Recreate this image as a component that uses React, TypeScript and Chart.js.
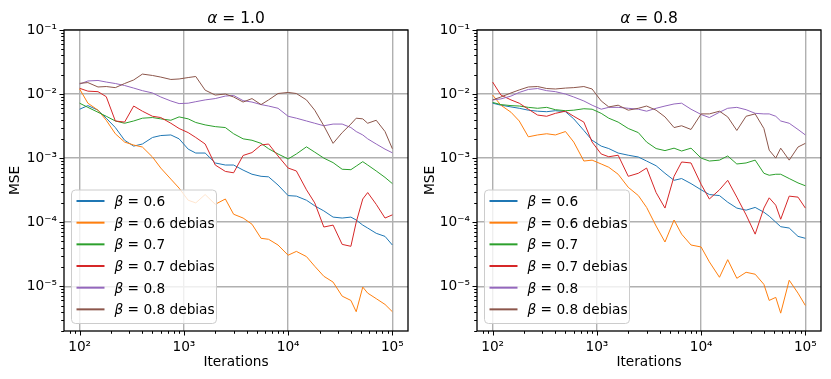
import React, { useEffect, useRef } from 'react';
import { Chart, registerables } from 'chart.js';

Chart.register(...registerables);

// ---------- data ----------
const iterations = [100, 120, 150, 180, 220, 270, 330, 400, 500, 600, 750, 900, 1100, 1300, 1600, 2000, 2500, 3000, 3700, 4500, 5500, 6500, 8000, 10000, 12000, 15000, 18000, 22000, 27000, 33000, 40000, 45000, 52000, 58000, 70000, 85000, 100000];

// alpha = 1.0
const a10_b06 = [5.8e-3, 6.6e-3, 5.6e-3, 4.2e-3, 3.0e-3, 1.9e-3, 1.54e-3, 1.66e-3, 2.1e-3, 2.25e-3, 2.3e-3, 2.0e-3, 1.38e-3, 1.2e-3, 1.2e-3, 8.4e-4, 7.8e-4, 7.8e-4, 6.5e-4, 5.6e-4, 5.2e-4, 5.1e-4, 3.8e-4, 2.6e-4, 2.55e-4, 2.2e-4, 1.8e-4, 1.5e-4, 1.2e-4, 1.16e-4, 1.2e-4, 1.08e-4, 9.0e-5, 8.1e-5, 6.7e-5, 6.0e-5, 4.4e-5];
const a10_b06_debias = [1.2e-2, 7.2e-3, 5.6e-3, 3.9e-3, 2.4e-3, 1.78e-3, 1.6e-3, 1.49e-3, 1.04e-3, 7.0e-4, 4.7e-4, 3.4e-4, 2.2e-4, 2.0e-4, 2.7e-4, 1.9e-4, 2.3e-4, 1.33e-4, 1.16e-4, 9.3e-5, 5.6e-5, 5.4e-5, 4.4e-5, 3.05e-5, 3.5e-5, 2.9e-5, 2.05e-5, 1.43e-5, 1.16e-5, 7.0e-6, 6.0e-6, 4.0e-6, 9.7e-6, 7.8e-6, 6.4e-6, 5.2e-6, 4.0e-6];
const a10_b07 = [7.2e-3, 6.2e-3, 5.2e-3, 4.5e-3, 3.8e-3, 3.5e-3, 3.8e-3, 4.2e-3, 4.3e-3, 4.1e-3, 3.9e-3, 4.4e-3, 4.1e-3, 3.6e-3, 3.3e-3, 3.1e-3, 3.0e-3, 2.4e-3, 2.0e-3, 1.9e-3, 1.7e-3, 1.4e-3, 1.16e-3, 9.7e-4, 1.16e-3, 1.5e-3, 1.24e-3, 1.0e-3, 8.5e-4, 6.7e-4, 6.6e-4, 7.5e-4, 8.8e-4, 7.8e-4, 6.3e-4, 5.0e-4, 4.0e-4];
const a10_b07_debias = [1.23e-2, 1.11e-2, 1.09e-2, 9.1e-3, 3.8e-3, 3.65e-3, 6.5e-3, 5.4e-3, 4.5e-3, 4.3e-3, 3.5e-3, 2.9e-3, 2.5e-3, 2.1e-3, 1.66e-3, 7.8e-4, 6.2e-4, 5.9e-4, 1.1e-3, 1.22e-3, 1.6e-3, 1.66e-3, 1.08e-3, 7.0e-4, 6.3e-4, 3.2e-4, 2.0e-4, 8.4e-5, 9.0e-5, 4.5e-5, 4.2e-5, 1.0e-4, 2.3e-4, 2.9e-4, 1.9e-4, 1.16e-4, 1.3e-4];
const a10_b08 = [1.43e-2, 1.6e-2, 1.63e-2, 1.54e-2, 1.46e-2, 1.36e-2, 1.24e-2, 1.13e-2, 1.04e-2, 9.0e-3, 7.8e-3, 7.1e-3, 7.2e-3, 7.6e-3, 8.1e-3, 8.5e-3, 9.3e-3, 9.5e-3, 7.9e-3, 7.5e-3, 6.85e-3, 6.5e-3, 6.0e-3, 4.5e-3, 4.2e-3, 3.8e-3, 3.5e-3, 3.2e-3, 3.4e-3, 3.4e-3, 3.0e-3, 2.6e-3, 2.3e-3, 2.0e-3, 1.66e-3, 1.38e-3, 1.21e-3];
const a10_b08_debias = [1.47e-2, 1.51e-2, 1.29e-2, 1.31e-2, 1.26e-2, 1.46e-2, 1.66e-2, 2.05e-2, 1.95e-2, 1.84e-2, 1.69e-2, 1.72e-2, 1.81e-2, 1.88e-2, 1.15e-2, 9.65e-3, 1.0e-2, 9.0e-3, 7.5e-3, 8.5e-3, 6.85e-3, 8.1e-3, 1.02e-2, 1.06e-2, 1.02e-2, 8.1e-3, 5.6e-3, 3.2e-3, 1.7e-3, 2.5e-3, 3.4e-3, 4.2e-3, 4.1e-3, 3.5e-3, 3.9e-3, 2.6e-3, 1.4e-3];

// alpha = 0.8
const a08_b06 = [7.2e-3, 6.7e-3, 6.3e-3, 6.0e-3, 5.6e-3, 5.4e-3, 5.3e-3, 5.5e-3, 5.3e-3, 4.1e-3, 2.7e-3, 1.9e-3, 1.54e-3, 1.41e-3, 1.2e-3, 1.11e-3, 1.04e-3, 9.0e-4, 7.6e-4, 5.8e-4, 4.5e-4, 4.8e-4, 4.0e-4, 3.2e-4, 2.7e-4, 2.6e-4, 2.05e-4, 1.66e-4, 1.54e-4, 1.7e-4, 1.43e-4, 1.24e-4, 1.0e-4, 8.5e-5, 8.1e-5, 6.0e-5, 5.6e-5];
const a08_b06_debias = [9.65e-3, 6.7e-3, 5.2e-3, 3.8e-3, 2.15e-3, 2.3e-3, 2.4e-3, 2.3e-3, 2.6e-3, 1.78e-3, 9.0e-4, 9.3e-4, 8.1e-4, 7.2e-4, 5.6e-4, 3.5e-4, 2.6e-4, 1.7e-4, 8.7e-5, 4.9e-5, 1.08e-4, 6.5e-5, 4.4e-5, 4.1e-5, 2.4e-5, 1.38e-5, 2.6e-5, 1.33e-5, 1.65e-5, 1.54e-5, 1.07e-5, 6.0e-6, 6.7e-6, 3.8e-6, 1.24e-5, 7.8e-6, 5.0e-6];
const a08_b07 = [7.4e-3, 6.85e-3, 6.6e-3, 6.5e-3, 6.2e-3, 6.0e-3, 6.2e-3, 5.7e-3, 5.5e-3, 5.6e-3, 5.9e-3, 5.8e-3, 5.0e-3, 4.2e-3, 3.65e-3, 2.9e-3, 2.5e-3, 1.78e-3, 1.41e-3, 1.31e-3, 1.43e-3, 1.29e-3, 1.43e-3, 1.0e-3, 9.0e-4, 9.3e-4, 1.08e-3, 8.1e-4, 8.4e-4, 9.3e-4, 5.8e-4, 5.4e-4, 5.6e-4, 5.6e-4, 4.8e-4, 4.1e-4, 3.7e-4];
const a08_b07_debias = [1.54e-2, 9.65e-3, 8.1e-3, 7.2e-3, 5.8e-3, 4.7e-3, 4.5e-3, 5.0e-3, 5.4e-3, 4.5e-3, 3.65e-3, 1.78e-3, 1.16e-3, 1.05e-3, 1.11e-3, 5.2e-4, 5.8e-4, 7.0e-4, 2.9e-4, 1.66e-4, 5.2e-4, 8.7e-4, 8.4e-4, 3.9e-4, 2.3e-4, 3.2e-4, 4.5e-4, 2.46e-4, 1.3e-4, 6.5e-5, 1.66e-4, 2.4e-4, 1.84e-4, 1.11e-4, 2.55e-4, 2.46e-4, 1.66e-4];
const a08_b08 = [8.1e-3, 8.4e-3, 9.3e-3, 1.06e-2, 1.18e-2, 1.22e-2, 1.13e-2, 1.09e-2, 1.0e-2, 9.0e-3, 7.8e-3, 6.7e-3, 5.8e-3, 6.2e-3, 6.2e-3, 6.0e-3, 5.8e-3, 5.4e-3, 6.0e-3, 6.5e-3, 7.0e-3, 7.2e-3, 5.8e-3, 4.8e-3, 4.3e-3, 5.2e-3, 6.0e-3, 6.2e-3, 5.7e-3, 5.0e-3, 4.9e-3, 4.9e-3, 4.5e-3, 3.8e-3, 3.5e-3, 2.8e-3, 2.3e-3];
const a08_b08_debias = [8.1e-3, 9.0e-3, 1.04e-2, 1.16e-2, 1.29e-2, 1.31e-2, 1.22e-2, 1.2e-2, 1.24e-2, 1.26e-2, 1.31e-2, 1.2e-2, 7.8e-3, 6.3e-3, 6.7e-3, 5.6e-3, 6.0e-3, 6.5e-3, 5.6e-3, 4.4e-3, 3.0e-3, 3.2e-3, 2.8e-3, 4.9e-3, 4.9e-3, 5.4e-3, 4.4e-3, 2.7e-3, 4.5e-3, 4.9e-3, 2.9e-3, 1.33e-3, 1.0e-3, 1.43e-3, 9.3e-4, 1.49e-3, 1.7e-3];

const betaValues = ['0.6', '0.6', '0.7', '0.7', '0.8', '0.8'];
const betaSuffixes = ['', ' debias', '', ' debias', '', ' debias'];
const seriesColors = ['#1f77b4', '#ff7f0e', '#2ca02c', '#d62728', '#9467bd', '#8c564b'];

const xTickValues = [1e2, 1e3, 1e4, 1e5];
const xTickLabels = ['10\u00B2', '10\u00B3', '10\u2074', '10\u2075'];
const yTickValues = [1e-5, 1e-4, 1e-3, 1e-2, 1e-1];
const yTickLabels = ['10\u207B\u2075', '10\u207B\u2074', '10\u207B\u00B3', '10\u207B\u00B2', '10\u207B\u00B9'];

const X_MIN = 70.8;
const X_MAX = 141254;
const Y_MIN = 2e-6;
const Y_MAX = 0.1;

const FONT = '"DejaVu Sans"';
const FS = 13.7;
const TITLE_FS = 15.5;

type Panel = { alpha: string; series: number[][]; yAxisWidth: number; padRight: number; left: number; width: number };

const panels: Panel[] = [
  { alpha: '1.0', series: [a10_b06, a10_b06_debias, a10_b07, a10_b07_debias, a10_b08, a10_b08_debias], yAxisWidth: 64, padRight: 7, left: 0, width: 415 },
  { alpha: '0.8', series: [a08_b06, a08_b06_debias, a08_b07, a08_b07_debias, a08_b08, a08_b08_debias], yAxisWidth: 62, padRight: 10, left: 415, width: 416 },
];

function logTickPositions(min: number, max: number): { v: number; major: boolean }[] {
  const out: { v: number; major: boolean }[] = [];
  const e0 = Math.floor(Math.log10(min));
  const e1 = Math.ceil(Math.log10(max));
  for (let e = e0; e <= e1; e++) {
    for (let m = 1; m <= 9; m++) {
      const v = m * Math.pow(10, e);
      if (v >= min * 0.9999 && v <= max * 1.0001) out.push({ v, major: m === 1 });
    }
  }
  return out;
}

const decorPlugin = {
  id: 'decor',
  afterDatasetsDraw(chart: any) {
    const { ctx, chartArea: ca } = chart;
    const xs = chart.scales.x;
    const ys = chart.scales.y;
    const alpha: string = chart.options.plugins.decor.alpha;
    ctx.save();
    // frame (spines)
    ctx.strokeStyle = '#000';
    ctx.lineWidth = 1.3;
    ctx.strokeRect(ca.left, ca.top, ca.right - ca.left, ca.bottom - ca.top);
    // ticks
    ctx.lineWidth = 1;
    for (const t of logTickPositions(X_MIN, X_MAX)) {
      const p = Math.round(xs.getPixelForValue(t.v)) + 0.5;
      ctx.beginPath();
      ctx.moveTo(p, ca.bottom);
      ctx.lineTo(p, ca.bottom + (t.major ? 4.5 : 2.8));
      ctx.stroke();
    }
    for (const t of logTickPositions(Y_MIN, Y_MAX)) {
      const p = Math.round(ys.getPixelForValue(t.v)) + 0.5;
      ctx.beginPath();
      ctx.moveTo(ca.left, p);
      ctx.lineTo(ca.left - (t.major ? 4.5 : 2.8), p);
      ctx.stroke();
    }
    // title
    ctx.fillStyle = '#000';
    ctx.textBaseline = 'alphabetic';
    ctx.font = `italic ${TITLE_FS}px ${FONT}`;
    const wA = ctx.measureText('\u03B1').width;
    ctx.font = `${TITLE_FS}px ${FONT}`;
    const rest = ' = ' + alpha;
    const wR = ctx.measureText(rest).width;
    const cx = (ca.left + ca.right) / 2;
    const tx = cx - (wA + wR) / 2;
    ctx.font = `italic ${TITLE_FS}px ${FONT}`;
    ctx.fillText('\u03B1', tx, 22.7);
    ctx.font = `${TITLE_FS}px ${FONT}`;
    ctx.fillText(rest, tx + wA, 22.7);

    // legend
    const lw = 145;
    const lh = 133.5;
    const lx = ca.left + 7.5;
    const ly = ca.bottom - 7.5 - lh;
    ctx.beginPath();
    if (ctx.roundRect) ctx.roundRect(lx, ly, lw, lh, 4);
    else ctx.rect(lx, ly, lw, lh);
    ctx.fillStyle = 'rgba(255,255,255,0.8)';
    ctx.fill();
    ctx.strokeStyle = '#cccccc';
    ctx.lineWidth = 1;
    ctx.stroke();
    chart.data.datasets.forEach((ds: any, i: number) => {
      const cy = ly + 11 + i * 21.67;
      ctx.strokeStyle = ds.borderColor;
      ctx.lineWidth = 2;
      ctx.beginPath();
      ctx.moveTo(lx + 5, cy);
      ctx.lineTo(lx + 33, cy);
      ctx.stroke();
      ctx.fillStyle = '#000';
      let x = lx + 43;
      const by = cy + 5;
      ctx.font = `italic ${FS}px ${FONT}`;
      ctx.fillText('\u03B2', x, by);
      x += ctx.measureText('\u03B2').width;
      ctx.font = `${FS}px ${FONT}`;
      const txt = ' = ' + betaValues[i] + betaSuffixes[i];
      ctx.fillText(txt, x, by);
    });
    ctx.restore();
  },
};

function PanelChart({ panel }: { panel: Panel }) {
  const ref = useRef<HTMLCanvasElement | null>(null);
  useEffect(() => {
    if (!ref.current) return;
    const datasets = panel.series.map((s, i) => ({
      label: 'beta ' + betaValues[i] + betaSuffixes[i],
      data: iterations.map((x, j) => ({ x, y: s[j] })),
      borderColor: seriesColors[i],
      backgroundColor: seriesColors[i],
      borderWidth: 1,
      pointRadius: 0,
      tension: 0,
      fill: false,
      order: 5 - i,
    }));
    const tickFont = { family: FONT, size: FS };
    const chart = new Chart(ref.current, {
      type: 'line',
      data: { datasets },
      plugins: [decorPlugin],
      options: {
        animation: false,
        responsive: false,
        maintainAspectRatio: false,
        devicePixelRatio: 1,
        layout: { padding: { top: 30, right: panel.padRight, left: 0, bottom: 0 } },
        plugins: {
          legend: { display: false },
          tooltip: { enabled: false },
          title: { display: false },
          decor: { alpha: panel.alpha },
        } as any,
        scales: {
          x: {
            type: 'logarithmic',
            min: X_MIN,
            max: X_MAX,
            afterBuildTicks: (s: any) => {
              s.ticks = xTickValues.map((v) => ({ value: v }));
            },
            afterFit: (s: any) => {
              s.height = 48;
            },
            ticks: {
              autoSkip: false,
              maxRotation: 0,
              padding: 2,
              color: '#000',
              font: tickFont,
              callback: (v: any) => {
                const k = xTickValues.indexOf(Number(v));
                return k >= 0 ? xTickLabels[k] : '';
              },
            },
            grid: { color: '#b0b0b0', lineWidth: 1.4, drawTicks: true, tickLength: 6, tickColor: 'rgba(0,0,0,0)' },
            border: { display: false },
            title: { display: true, text: 'Iterations', color: '#000', font: tickFont, padding: { top: 0, bottom: 8.5 } },
          },
          y: {
            type: 'logarithmic',
            min: Y_MIN,
            max: Y_MAX,
            afterBuildTicks: (s: any) => {
              s.ticks = yTickValues.map((v) => ({ value: v }));
            },
            afterFit: (s: any) => {
              s.width = panel.yAxisWidth;
            },
            ticks: {
              autoSkip: false,
              padding: 1,
              color: '#000',
              font: tickFont,
              callback: (v: any) => {
                const k = yTickValues.indexOf(Number(v));
                return k >= 0 ? yTickLabels[k] : '';
              },
            },
            grid: { color: '#b0b0b0', lineWidth: 1.4, drawTicks: true, tickLength: 6, tickColor: 'rgba(0,0,0,0)' },
            border: { display: false },
            title: { display: true, text: 'MSE', color: '#000', font: tickFont, padding: { top: 7, bottom: 0 } },
          },
        },
      } as any,
    });
    return () => chart.destroy();
  }, [panel]);
  return (
    <div style={{ position: 'absolute', left: panel.left, top: 0, width: panel.width, height: 379 }}>
      <canvas ref={ref} width={panel.width} height={379} style={{ display: 'block', width: panel.width, height: 379 }} />
    </div>
  );
}

export default function App() {
  return (
    <div style={{ position: 'fixed', left: 0, top: 0, width: 831, height: 379, background: '#fff', overflow: 'hidden' }}>
      {panels.map((p) => (
        <PanelChart key={p.alpha} panel={p} />
      ))}
    </div>
  );
}
